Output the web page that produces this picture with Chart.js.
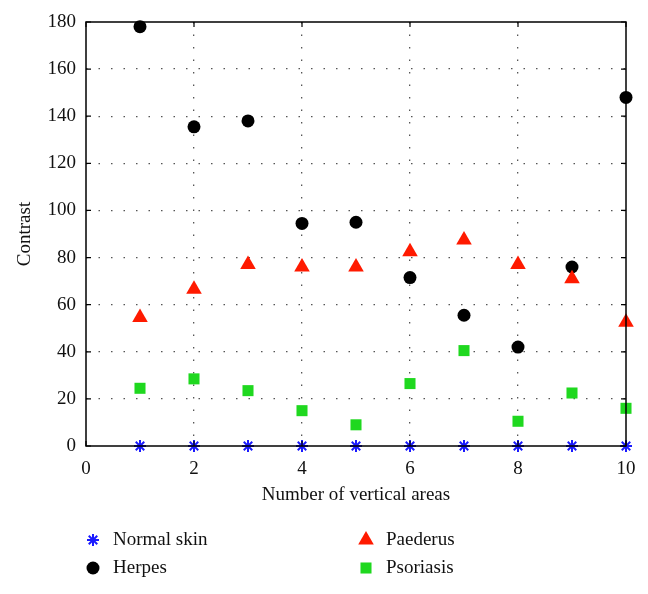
<!DOCTYPE html>
<html>
<head>
<meta charset="utf-8">
<script src="https://cdn.jsdelivr.net/npm/chart.js@4"></script>
<style>
    html, body { margin: 0; padding: 0; background: #fff; }
    #wrap { width: 648px; height: 594px; }
</style>
</head>
<body>
<div id="wrap"><canvas id="contrastChart" width="648" height="594"></canvas></div>
<script>
// Data
const areas = [1, 2, 3, 4, 5, 6, 7, 8, 9, 10];
const normalSkin = [0, 0, 0, 0, 0, 0, 0, 0, 0, 0];
const herpes = [178, 135.5, 138, 94.5, 95, 71.5, 55.5, 42, 76, 148];
const paederus = [54.5, 66.5, 77, 76, 76, 82.5, 87.5, 77, 71, 52.5];
const psoriasis = [24.5, 28.5, 23.5, 15, 9, 26.5, 40.5, 10.5, 22.5, 16];

const xTicks = [0, 2, 4, 6, 8, 10];
const yTicks = [0, 20, 40, 60, 80, 100, 120, 140, 160, 180];

const font = "'Liberation Serif', 'DejaVu Serif', serif";

function toPoints(values) {
    return areas.map((a, i) => ({ x: a, y: values[i] }));
}

const series = [
    { label: 'Normal skin', data: normalSkin, style: 'star', radius: 6, color: '#1a1aff', border: 2, col: 0, row: 0 },
    { label: 'Paederus', data: paederus, style: 'triangle', radius: 9, color: '#ff1a00', border: 0, col: 1, row: 0 },
    { label: 'Herpes', data: herpes, style: 'circle', radius: 6.5, color: '#000000', border: 0, col: 0, row: 1 },
    { label: 'Psoriasis', data: psoriasis, style: 'rect', radius: 7.8, color: '#1fd81f', border: 0, col: 1, row: 1 }
];

// Box around the plot, inward ticks, and the two-column legend
const framePlugin = {
    id: 'frame',
    afterDatasetsDraw(chart) {
        const { ctx, chartArea: a, scales } = chart;
        ctx.save();
        ctx.strokeStyle = '#000';
        ctx.lineWidth = 1.5;
        ctx.strokeRect(a.left, a.top, a.right - a.left, a.bottom - a.top);
        ctx.lineWidth = 1.2;
        ctx.beginPath();
        yTicks.forEach(v => {
            const y = scales.y.getPixelForValue(v);
            ctx.moveTo(a.left, y); ctx.lineTo(a.left + 5, y);
            ctx.moveTo(a.right, y); ctx.lineTo(a.right - 5, y);
        });
        xTicks.forEach(v => {
            const x = scales.x.getPixelForValue(v);
            ctx.moveTo(x, a.bottom); ctx.lineTo(x, a.bottom - 5);
            ctx.moveTo(x, a.top); ctx.lineTo(x, a.top + 5);
        });
        ctx.stroke();
        ctx.restore();
    },
    afterDraw(chart) {
        const ctx = chart.ctx;
        const colX = [93, 366];
        const rowY = [540, 568];
        ctx.save();
        ctx.font = '19px ' + font;
        ctx.textBaseline = 'middle';
        ctx.textAlign = 'left';
        series.forEach(s => {
            const x = colX[s.col];
            const y = rowY[s.row];
            ctx.fillStyle = s.color;
            ctx.strokeStyle = s.color;
            ctx.lineWidth = s.border;
            Chart.helpers.drawPoint(ctx, {
                pointStyle: s.style,
                radius: s.radius,
                rotation: 0,
                borderWidth: s.border
            }, x, y);
            ctx.fillStyle = '#111';
            ctx.fillText(s.label, x + 20, y);
        });
        ctx.restore();
    }
};

const ctx = document.getElementById('contrastChart').getContext('2d');
const contrastChart = new Chart(ctx, {
    type: 'scatter',
    data: {
        datasets: series.map(s => ({
            label: s.label,
            data: toPoints(s.data),
            pointStyle: s.style,
            pointRadius: s.radius,
            pointHoverRadius: s.radius,
            backgroundColor: s.color,
            borderColor: s.color,
            pointBorderWidth: s.border,
            clip: false
        }))
    },
    options: {
        responsive: false,
        animation: false,
        layout: { padding: { left: 10, right: 22, top: 22, bottom: 88 } },
        plugins: {
            legend: { display: false },
            tooltip: { enabled: false }
        },
        scales: {
            x: {
                type: 'linear',
                min: 0,
                max: 10,
                afterBuildTicks: scale => { scale.ticks = xTicks.map(v => ({ value: v })); },
                afterFit: scale => { scale.height = 60; },
                grid: {
                    drawTicks: false,
                    color: ctx => (ctx.tick && (ctx.tick.value === 0 || ctx.tick.value === 10)) ? 'rgba(0,0,0,0)' : '#555',
                    lineWidth: 1.3
                },
                border: { display: false, dash: [1.5, 11] },
                ticks: {
                    padding: 12,
                    color: '#111',
                    font: { family: font, size: 19 }
                },
                title: {
                    display: true,
                    text: 'Number of vertical areas',
                    color: '#111',
                    padding: 0,
                    font: { family: font, size: 19 }
                }
            },
            y: {
                min: 0,
                max: 180,
                afterBuildTicks: scale => { scale.ticks = yTicks.map(v => ({ value: v })); },
                afterFit: scale => { scale.width = 76; },
                grid: {
                    drawTicks: false,
                    color: ctx => (ctx.tick && (ctx.tick.value === 0 || ctx.tick.value === 180)) ? 'rgba(0,0,0,0)' : '#555',
                    lineWidth: 1.3
                },
                border: { display: false, dash: [1.5, 11] },
                ticks: {
                    padding: 10,
                    color: '#111',
                    font: { family: font, size: 19 }
                },
                title: {
                    display: true,
                    text: 'Contrast',
                    color: '#111',
                    padding: 4,
                    font: { family: font, size: 19 }
                }
            }
        }
    },
    plugins: [framePlugin]
});
</script>
</body>
</html>
